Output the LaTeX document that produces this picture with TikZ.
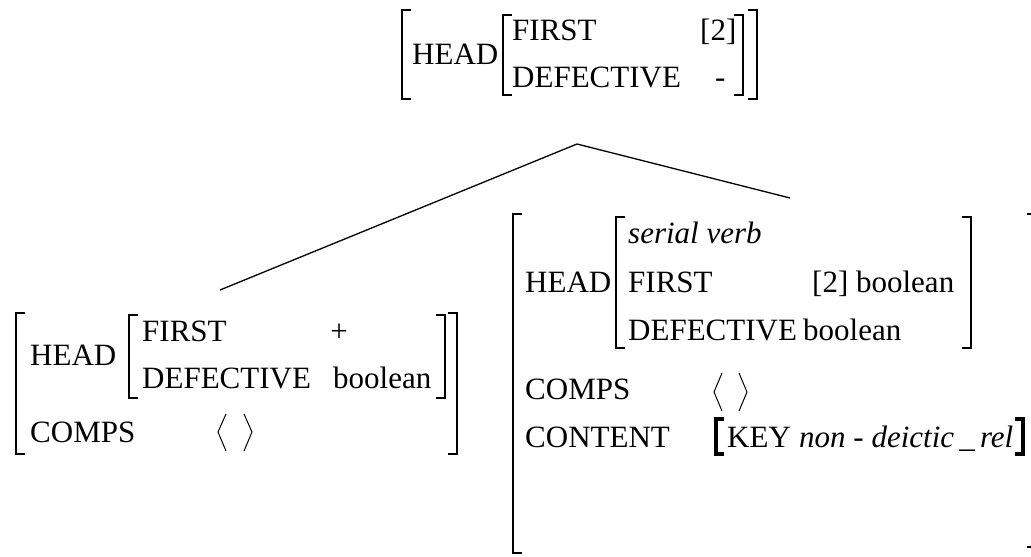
\documentclass[tikz,border=0pt]{standalone}
\usepackage{fontspec}
\setmainfont{Liberation Serif}
\newcommand\avmL[4]{\draw[#4] (#1+9,#2) -- (#1,#2) -- (#1,#3) -- (#1+9,#3);}
\newcommand\avmR[4]{\draw[#4] (#1-9,#2) -- (#1,#2) -- (#1,#3) -- (#1-9,#3);}
\begin{document}
\begin{tikzpicture}[x=1pt,y=-1pt,
  txt/.style={anchor=base west, inner sep=0pt, font=\fontsize{31}{36}\selectfont},
  brk/.style={line width=1.2pt},
  boldbrk/.style={line width=3.5pt},
  angl/.style={line width=1pt},
  edge/.style={line width=1.3pt}]
\useasboundingbox (0,0) rectangle (1031,557);

% ---- top AVM ----
\avmL{402}{10}{99}{brk}
\avmL{503}{15}{95}{brk}
\avmR{743}{15}{95}{brk}
\avmR{757}{10}{99}{brk}
\node[txt] (tHead) at (412,64) {HEAD};
\node[txt] (tFirst) at (512,40) {FIRST};
\node[txt] (tTwo) at (700,40) {[2]};
\node[txt] (tDef) at (512,87) {DEFECTIVE};
\node[txt] (tMinus) at (715,87) {-};

% ---- tree ----
\coordinate (apex) at (577,144);
\coordinate (lend) at (220,290);
\coordinate (rend) at (790,198);
\draw[edge] (lend) -- (apex) -- (rend);

% ---- left AVM ----
\avmL{16}{313}{454}{brk}
\avmL{129}{315}{398}{brk}
\avmR{445}{315}{398}{brk}
\avmR{457}{313}{454}{brk}
\node[txt] (lHead) at (30,365) {HEAD};
\node[txt] (lFirst) at (142,341) {FIRST};
\node[txt, anchor=base] (lPlus) at (339,341) {+};
\node[txt] (lDef) at (142,388) {DEFECTIVE};
\node[txt] (lBool) at (333,388) {boolean};
\node[txt] (lComps) at (30,442) {COMPS};
\draw[angl] (226,414) -- (218,432) -- (226,451);
\draw[angl] (244,414) -- (252,432) -- (244,451);

% ---- right AVM ----
\avmL{513}{214}{553}{brk}
\avmL{616}{217}{348}{brk}
\avmR{971}{217}{348}{brk}
\draw[brk] (1027,214) -- (1031,214);
\draw[brk] (1027,547) -- (1031,547);
\node[txt] (rHead) at (525,292) {HEAD};
\node[txt] (rSerial) at (628,243) {\itshape serial verb};
\node[txt] (rFirst) at (628,292) {FIRST};
\node[txt] (rTwoBool) at (812,292) {[2] boolean};
\node[txt] (rDef) at (628,340) {DEFECTIVE};
\node[txt] (rBool) at (803,340) {boolean};
\node[txt] (rComps) at (525,399) {COMPS};
\draw[angl] (722,373) -- (714,392) -- (722,411);
\draw[angl] (739,373) -- (747,392) -- (739,411);
\node[txt] (rContent) at (525,447) {CONTENT};
\draw[boldbrk] (724,419) -- (716,419) -- (716,454) -- (724,454);
\node[txt] (rKey) at (727,447) {KEY};
\node[txt] (rRel) at (799,447) {\itshape non - deictic\,\_\,rel};
\draw[boldbrk] (1015,419) -- (1023,419) -- (1023,454) -- (1015,454);
\end{tikzpicture}
\end{document}
